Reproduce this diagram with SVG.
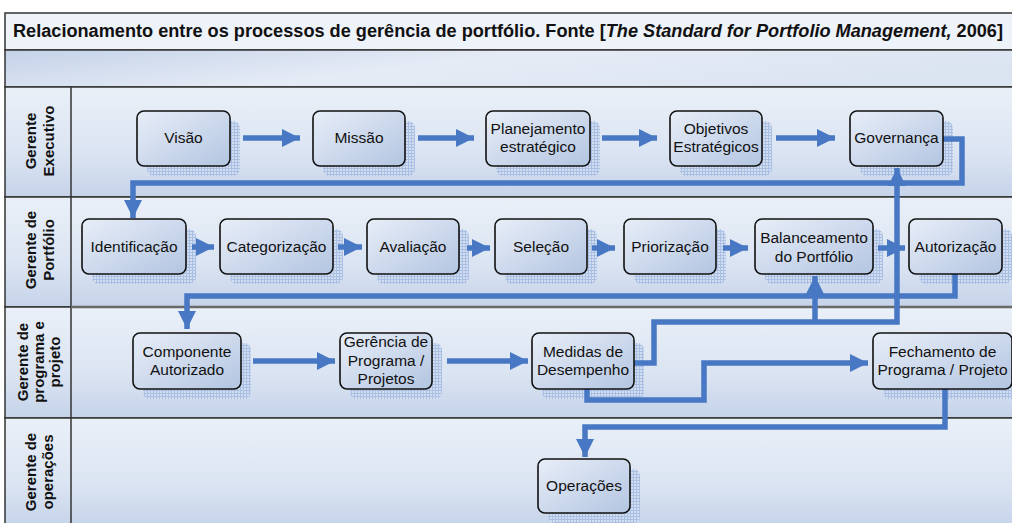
<svg xmlns="http://www.w3.org/2000/svg" width="1012" height="523" viewBox="0 0 1012 523">
<style>
.lbl{font-family:"Liberation Sans",Arial,sans-serif;font-size:15px;font-weight:bold;fill:#111;text-anchor:middle}
.nt{font-family:"Liberation Sans",Arial,sans-serif;font-size:15.5px;fill:#111;text-anchor:middle}
.box{fill:url(#nodeGrad);stroke:#111;stroke-width:1.6}
.shd{fill:url(#grid)}
.con{fill:none;stroke:#4878c4;stroke-width:5.5}
.arr{marker-end:url(#ah)}
.frame{stroke:#333;stroke-width:1.5}
</style>
<defs>
<linearGradient id="laneGrad" x1="0" y1="0" x2="0" y2="1">
<stop offset="0" stop-color="#eaf0f8"/>
<stop offset="0.6" stop-color="#dbe4f2"/>
<stop offset="1" stop-color="#c5d3e9"/>
</linearGradient>
<linearGradient id="hdrGrad" x1="0" y1="0" x2="1" y2="0.3">
<stop offset="0" stop-color="#c4d2e8"/>
<stop offset="0.5" stop-color="#e6ecf6"/>
<stop offset="1" stop-color="#dbe4f1"/>
</linearGradient>
<linearGradient id="nodeGrad" x1="0" y1="0" x2="1" y2="1">
<stop offset="0" stop-color="#e8eef8"/>
<stop offset="1" stop-color="#b3c5e1"/>
</linearGradient>
<pattern id="grid" width="3" height="3" patternUnits="userSpaceOnUse">
<rect width="3" height="3" fill="#d2ddf0"/>
<path d="M0,0.5H3M0.5,0V3" stroke="#a9bfe3" stroke-width="1"/>
</pattern>
<marker id="ah" markerUnits="userSpaceOnUse" markerWidth="19" markerHeight="18" refX="18" refY="9" orient="auto">
<path d="M0,0L18,9L0,18z" fill="#4878c4"/>
</marker>
</defs>

<g id="frame">
<rect x="5" y="13" width="1010" height="37" fill="#eef2f9" class="frame"/>
<rect x="5" y="50" width="1010" height="37" fill="url(#hdrGrad)" class="frame"/>
<rect x="5" y="87" width="1010" height="110" fill="url(#laneGrad)" class="frame"/>
<rect x="5" y="197" width="1010" height="110" fill="url(#laneGrad)" class="frame"/>
<rect x="5" y="307" width="1010" height="111" fill="url(#laneGrad)" class="frame"/>
<rect x="5" y="418" width="1010" height="110" fill="url(#laneGrad)" class="frame"/>
<line x1="71" y1="87" x2="71" y2="523" class="frame"/>
<line x1="71" y1="307" x2="1012" y2="307" stroke="#6a6a6a" stroke-width="2.5"/>
<text x="13" y="37" font-family="'Liberation Sans',Arial,sans-serif" font-size="18" font-weight="bold" fill="#111" textLength="990" lengthAdjust="spacingAndGlyphs">Relacionamento entre os processos de gerência de portfólio. Fonte [<tspan font-style="italic">The Standard for Portfolio Management,</tspan> 2006]</text>
</g>

<g id="lane-labels">
<g transform="translate(0,141) rotate(-90)"><text class="lbl" x="0" y="36">Gerente</text><text class="lbl" x="0" y="54">Executivo</text></g>
<g transform="translate(0,250) rotate(-90)"><text class="lbl" x="0" y="36">Gerente de</text><text class="lbl" x="0" y="54">Portfólio</text></g>
<g transform="translate(0,362) rotate(-90)"><text class="lbl" x="0" y="28">Gerente de</text><text class="lbl" x="0" y="44">programa e</text><text class="lbl" x="0" y="60">projeto</text></g>
<g transform="translate(0,472) rotate(-90)"><text class="lbl" x="0" y="36">Gerente de</text><text class="lbl" x="0" y="53">operações</text></g>
</g>

<g id="shadows">
<rect class="shd" x="147" y="121" width="93" height="55" rx="7"/>
<rect class="shd" x="323" y="121" width="92" height="55" rx="7"/>
<rect class="shd" x="496" y="121" width="104" height="55" rx="7"/>
<rect class="shd" x="680" y="121" width="92" height="55" rx="7"/>
<rect class="shd" x="860" y="121" width="93" height="55" rx="7"/>
<rect class="shd" x="92" y="229" width="104" height="55" rx="7"/>
<rect class="shd" x="230" y="229" width="113" height="55" rx="7"/>
<rect class="shd" x="377" y="229" width="92" height="55" rx="7"/>
<rect class="shd" x="505" y="229" width="92" height="55" rx="7"/>
<rect class="shd" x="634" y="229" width="92" height="55" rx="7"/>
<rect class="shd" x="765" y="229" width="118" height="55" rx="7"/>
<rect class="shd" x="919" y="229" width="93" height="55" rx="7"/>
<rect class="shd" x="143" y="343" width="108" height="56" rx="7"/>
<rect class="shd" x="350" y="343" width="92" height="56" rx="7"/>
<rect class="shd" x="542" y="343" width="102" height="56" rx="7"/>
<rect class="shd" x="883" y="343" width="139" height="56" rx="7"/>
<rect class="shd" x="548" y="469" width="92" height="54" rx="7"/>
</g>

<g id="connectors">
<path class="con arr" d="M243,138H300"/>
<path class="con arr" d="M418,138H474"/>
<path class="con arr" d="M602,138H657"/>
<path class="con arr" d="M776,138H835"/>
<path class="con arr" d="M943,139H962V183H133V218"/>
<path class="con arr" d="M192,247H214"/>
<path class="con arr" d="M338,247H362"/>
<path class="con arr" d="M467,248H490"/>
<path class="con arr" d="M592,248H615"/>
<path class="con arr" d="M723,248H748"/>
<path class="con arr" d="M878,248H905"/>
<path class="con arr" d="M955,274V296H187V329"/>
<path class="con arr" d="M253,361H335"/>
<path class="con arr" d="M447,361H528"/>
<path class="con arr" d="M634,363H654V322H897V168"/>
<path class="con arr" d="M815,322V276"/>
<path class="con arr" d="M587,389V400H704V363H868"/>
<path class="con arr" d="M945,389V427H585V457"/>
</g>

<g id="n-visao"><rect class="box" x="137" y="111" width="93" height="55" rx="7"/><text class="nt" x="183.5" y="143">Visão</text></g>
<g id="n-missao"><rect class="box" x="313" y="111" width="92" height="55" rx="7"/><text class="nt" x="359" y="143">Missão</text></g>
<g id="n-planejamento"><rect class="box" x="486" y="111" width="104" height="55" rx="7"/><text class="nt" x="538" y="134">Planejamento</text><text class="nt" x="538" y="152">estratégico</text></g>
<g id="n-objetivos"><rect class="box" x="670" y="111" width="92" height="55" rx="7"/><text class="nt" x="716" y="134">Objetivos</text><text class="nt" x="716" y="152">Estratégicos</text></g>
<g id="n-governanca"><rect class="box" x="850" y="111" width="93" height="55" rx="7"/><text class="nt" x="896.5" y="143">Governança</text></g>

<g id="n-identificacao"><rect class="box" x="82" y="219" width="104" height="55" rx="7"/><text class="nt" x="134" y="252">Identificação</text></g>
<g id="n-categorizacao"><rect class="box" x="220" y="219" width="113" height="55" rx="7"/><text class="nt" x="276.5" y="252">Categorização</text></g>
<g id="n-avaliacao"><rect class="box" x="367" y="219" width="92" height="55" rx="7"/><text class="nt" x="413" y="252">Avaliação</text></g>
<g id="n-selecao"><rect class="box" x="495" y="219" width="92" height="55" rx="7"/><text class="nt" x="541" y="252">Seleção</text></g>
<g id="n-priorizacao"><rect class="box" x="624" y="219" width="92" height="55" rx="7"/><text class="nt" x="670" y="252">Priorização</text></g>
<g id="n-balanceamento"><rect class="box" x="755" y="219" width="118" height="55" rx="7"/><text class="nt" x="814" y="243">Balanceamento</text><text class="nt" x="814" y="262">do Portfólio</text></g>
<g id="n-autorizacao"><rect class="box" x="909" y="219" width="93" height="55" rx="7"/><text class="nt" x="955.5" y="252">Autorização</text></g>

<g id="n-componente"><rect class="box" x="133" y="333" width="108" height="56" rx="7"/><text class="nt" x="187" y="357">Componente</text><text class="nt" x="187" y="375">Autorizado</text></g>
<g id="n-gerencia"><rect class="box" x="340" y="333" width="92" height="56" rx="7"/><text class="nt" x="386" y="347">Gerência de</text><text class="nt" x="386" y="366">Programa /</text><text class="nt" x="386" y="384">Projetos</text></g>
<g id="n-medidas"><rect class="box" x="532" y="333" width="102" height="56" rx="7"/><text class="nt" x="583" y="357">Medidas de</text><text class="nt" x="583" y="375">Desempenho</text></g>
<g id="n-fechamento"><rect class="box" x="873" y="333" width="139" height="56" rx="7"/><text class="nt" x="942.5" y="357">Fechamento de</text><text class="nt" x="942.5" y="375">Programa / Projeto</text></g>

<g id="n-operacoes"><rect class="box" x="538" y="459" width="92" height="54" rx="7"/><text class="nt" x="584" y="491">Operações</text></g>
</svg>
